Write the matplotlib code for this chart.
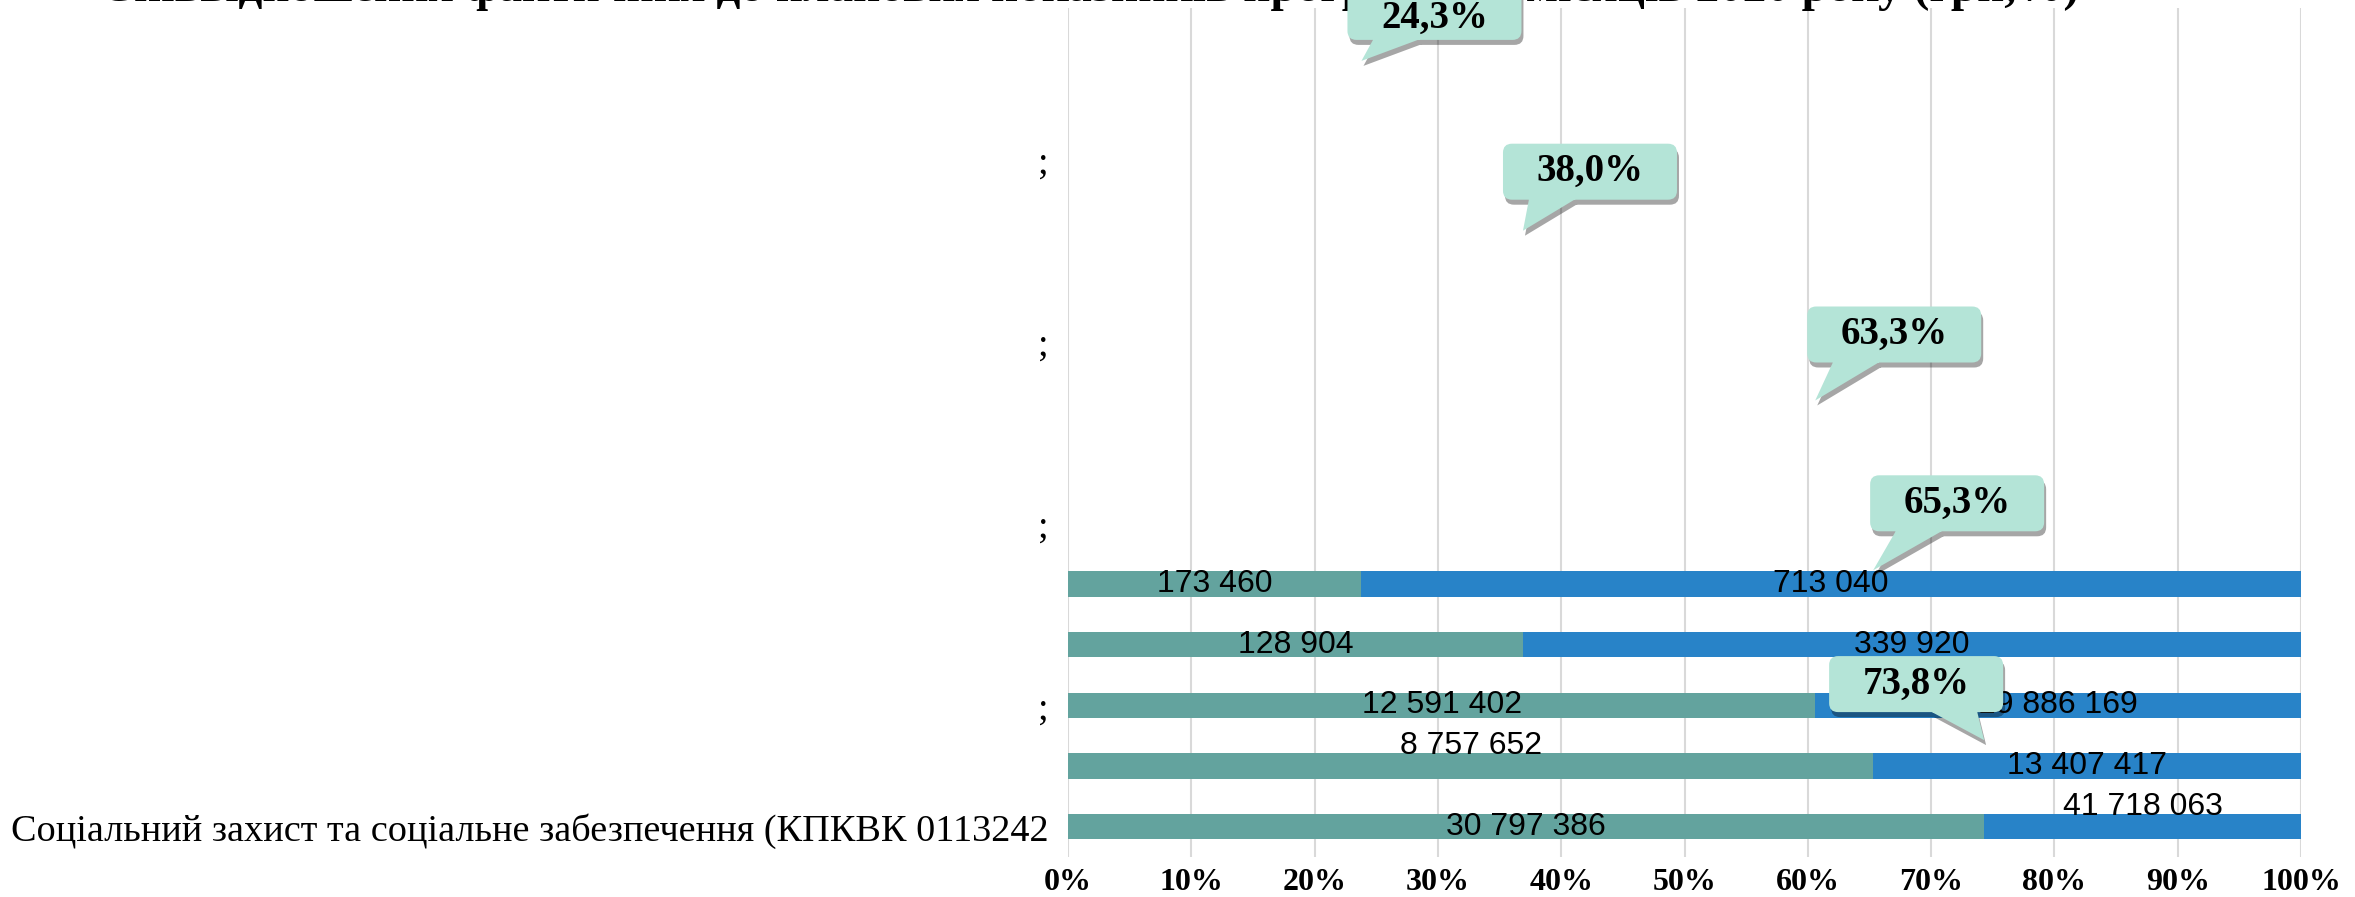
import numpy as np
import matplotlib
matplotlib.use('Agg')
import matplotlib.pyplot as plt
import matplotlib.patches as mpatches
from matplotlib.path import Path
from matplotlib.transforms import IdentityTransform

# bars, from bottom to top
fact = [30797386, 8757652, 12591402, 128904, 173460]
plan = [41718063, 13407417, 19886169, 339920, 713040]
fact_share = [0.743, 0.653, 0.606, 0.369, 0.238]   # teal part of each 100% bar
pct_labels = ['73,8%', '65,3%', '63,3%', '38,0%', '24,3%']

cat_pos = [0, 2, 5, 8, 11]
cat_labels = ['Соціальний захист та соціальне забезпечення (КПКВК 0113242', ';', ';', ';', ';']
ticks = np.arange(0, 1.01, 0.1)
tick_labels = [f'{int(round(t * 100))}%' for t in ticks]

title = 'Співвідношення фактичних до планових показників програм за 9 місяців 2020 року (грн,%)'

TEAL = '#63a39e'
BLUE = '#2883c8'
MINT = '#b4e4d7'

# pixel nudges for the labels and callouts (x right, y down)
fact_lab_dy = [0, -20, 0, 0, 0]
plan_lab_dy = [-20, 0, 0, 0, 0]
box_off = [(-68, -56), (84, -67), (79, -66), (67, -59), (73, -49)]
txt_dy = [0, 0, 0, 0, 6]

def fmt(v):
    return f'{v:,}'.replace(',', ' ')

W, H = 2355, 897
fig = plt.figure(figsize=(W / 100, H / 100), dpi=100)
ax = fig.add_axes([1068 / W, 1 - 857 / H, (2301 - 1068) / W, (857 - 8) / H])
ax.set_xlim(0, 1)
ax.set_ylim(-0.5, 13.5)
for s in ax.spines.values():
    s.set_visible(False)
ax.set_xticks(ticks)
ax.set_xticklabels(tick_labels, family='Liberation Serif', weight='bold', fontsize=23)
ax.set_yticks(cat_pos)
ax.set_yticklabels(cat_labels, family='Liberation Serif', fontsize=27.5)
ax.tick_params(length=0)
ax.tick_params(axis='x', pad=8)
ax.tick_params(axis='y', pad=14)
ax.grid(axis='x', color='#d9d9d9', lw=1.5)
ax.set_axisbelow(True)

y = np.arange(len(fact))
share = np.array(fact_share)
ax.barh(y, share, height=0.42, color=TEAL)
ax.barh(y, 1 - share, left=share, height=0.42, color=BLUE)

px = 849 / 14  # pixels per category unit
for i in range(len(fact)):
    ax.text(share[i] / 2, y[i] - fact_lab_dy[i] / px, fmt(fact[i]), ha='center', va='center',
            family='Liberation Sans', fontsize=23, color='black')
    ax.text((1 + share[i]) / 2, y[i] - plan_lab_dy[i] / px, fmt(plan[i]), ha='center', va='center',
            family='Liberation Sans', fontsize=23, color='black')

# hidden secondary category axis that carries the percentage callouts
ax2 = ax.twinx()
ax2.set_ylim(-0.5, 4.5)
ax2.set_yticks([])
for s in ax2.spines.values():
    s.set_visible(False)

fig.text(1090 / W, 1 - 1 / H, title, ha='center', va='baseline',
         family='Liberation Serif', weight='bold', fontsize=34)


def area(v):
    v = np.asarray(v)
    return 0.5 * np.sum(v[:, 0] * np.roll(v[:, 1], -1) - np.roll(v[:, 0], -1) * v[:, 1])


def callout_path(cx, cy, w, h, tip):
    box = mpatches.BoxStyle('Round', pad=0, rounding_size=9)(cx - w / 2, cy - h / 2, w, h, 1.0)
    bv = box.vertices
    if tip[0] < cx:
        b1, b2 = cx - w / 2 + 0.15 * w, cx - w / 2 + 0.42 * w
    else:
        b1, b2 = cx - w / 2 + 0.58 * w, cx - w / 2 + 0.85 * w
    by = cy - h / 2 + 1
    wedge = [(b1, by), (b2, by), tip]
    if np.sign(area(wedge)) != np.sign(area(bv[:-1])):
        wedge = wedge[::-1]
    wp = Path(wedge + [wedge[0]], [Path.MOVETO, Path.LINETO, Path.LINETO, Path.CLOSEPOLY])
    return Path.make_compound_path(box, wp)


fig.canvas.draw()
bw, bh = 174, 56
for i, lab in enumerate(pct_labels):
    x0, y0 = ax2.transData.transform((share[i], i))
    tip = (x0, y0 + 32)
    cx, cy = tip[0] + box_off[i][0], tip[1] - box_off[i][1]
    sh = callout_path(cx + 2, cy - 5, bw, bh, (tip[0] + 2, tip[1] - 5))
    fig.add_artist(mpatches.PathPatch(sh, fc='black', ec='none', alpha=0.35,
                                      transform=IdentityTransform(), zorder=5))
    main = callout_path(cx, cy, bw, bh, tip)
    fig.add_artist(mpatches.PathPatch(main, fc=MINT, ec='none',
                                      transform=IdentityTransform(), zorder=6))
    fig.text(cx / W, (cy - txt_dy[i]) / H, lab, ha='center', va='center', family='Liberation Serif',
             weight='bold', fontsize=28, zorder=7)

fig.savefig('out.png', dpi=100)
